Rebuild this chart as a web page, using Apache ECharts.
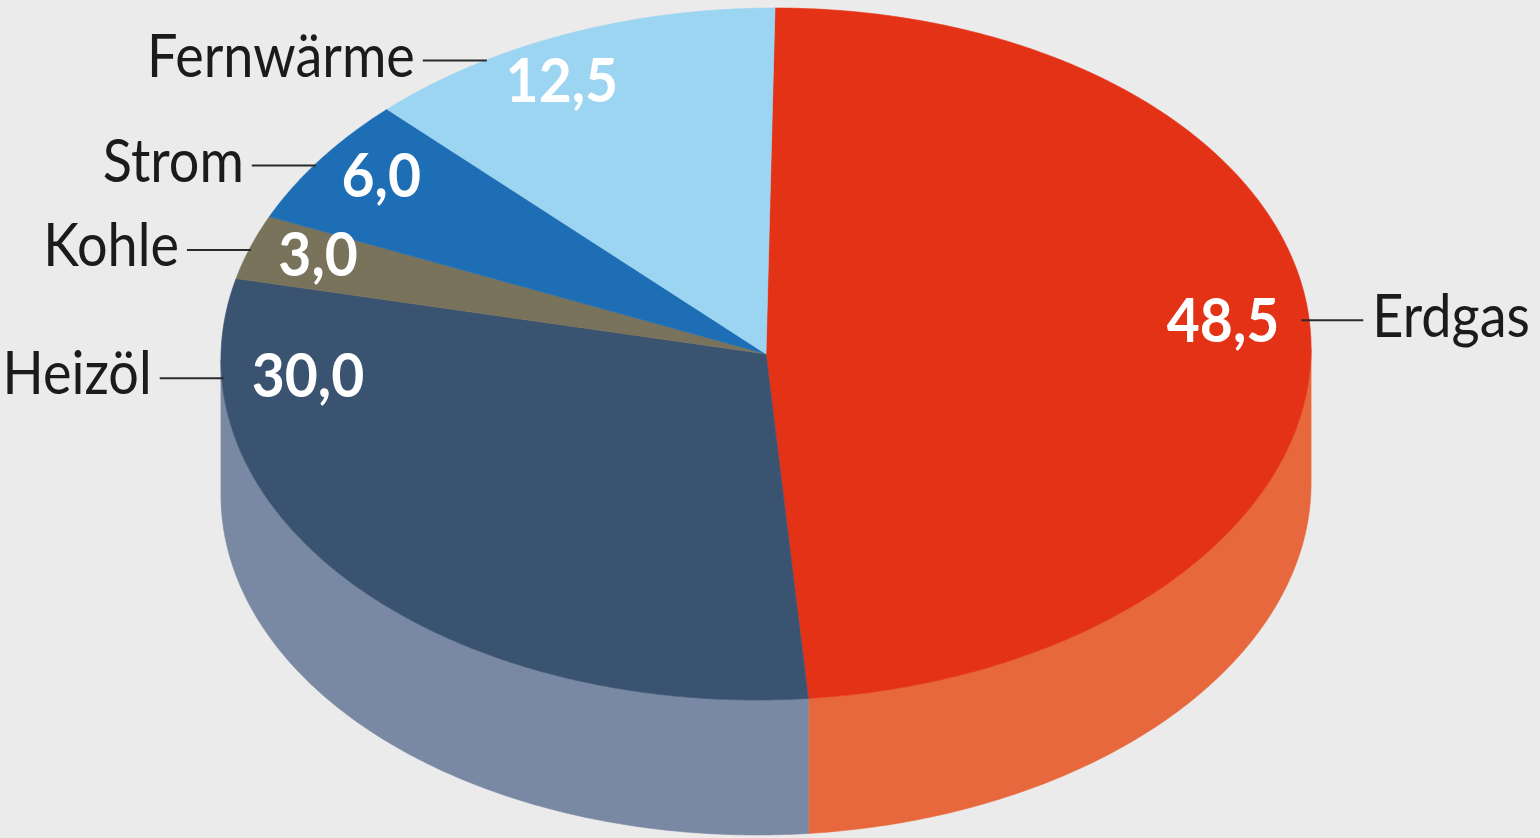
<!DOCTYPE html>
<html><head><meta charset="utf-8">
<script src="https://cdn.jsdelivr.net/npm/echarts@6/dist/echarts.min.js"></script>
<style>html,body{margin:0;padding:0;background:#ebebeb}#c{width:1540px;height:838px}</style>
</head><body><div id="c"></div>
<script>
// ---- data ----
const categories = ['Erdgas', 'Heizöl', 'Kohle', 'Strom', 'Fernwärme'];
const values = [48.5, 30.0, 3.0, 6.0, 12.5];
// ---- styling / layout ----
const topColors = ['#E43217', '#3A5371', '#7A735C', '#1E6EB6', '#9CD5F2'];
const sideColors = ['#E8683D', '#7A89A3', '#5B5645', '#17528A', '#74A0B5'];
const labelAngles = [84.4, 266, 287.5, 303, 328]; // where each leader line meets the rim (deg, clockwise from top)

const CX = 766, CY = 354, RX = 545, RY = 346, SHEAR = 9, DEPTH = 135;
const FRONT0 = Math.atan2(RX, SHEAR) * 180 / Math.PI, FRONT1 = FRONT0 + 180;

function pt(deg, dy) {
  const t = deg * Math.PI / 180;
  return [CX + RX * Math.sin(t) + SHEAR * Math.cos(t), CY - RY * Math.cos(t) + (dy || 0)];
}
function arc(a, b, dy) {
  const n = Math.max(2, Math.ceil(Math.abs(b - a) / 0.5) + 1);
  const out = [];
  for (let k = 0; k < n; k++) out.push(pt(a + (b - a) * k / (n - 1), dy));
  return out;
}
function fmt(v) { return v.toFixed(1).replace('.', ','); }

const total = values.reduce((a, b) => a + b, 0);

function renderItem(params, api) {
  const i = params.dataIndex;
  let before = 0;
  for (let k = 0; k < i; k++) before += values[k];
  const a0 = before / total * 360;
  const a1 = (before + api.value(0)) / total * 360;
  const children = [];
  const lo = Math.max(a0, FRONT0), hi = Math.min(a1, FRONT1);
  if (hi > lo) {
    children.push({ type: 'polygon', z2: 1,
      shape: { points: arc(lo, hi, 0).concat(arc(hi, lo, DEPTH)) },
      style: { fill: sideColors[i], stroke: sideColors[i], lineWidth: 0.6 } });
  }
  children.push({ type: 'polygon', z2: 2,
    shape: { points: [[CX, CY]].concat(arc(a0, a1, 0)) },
    style: { fill: topColors[i], stroke: topColors[i], lineWidth: 0.6 } });

  const la = labelAngles[i];
  const P = pt(la, 0);
  const right = Math.sin(la * Math.PI / 180) > 0;
  let dx = CX - P[0], dy = CY - P[1];
  const len = Math.hypot(dx, dy); dx /= len; dy /= len;
  const Q = [P[0] + 30 * dx, P[1] + 30 * dy];
  const lineShape = right ? { x1: P[0] - 8, y1: P[1], x2: P[0] + 54, y2: P[1] }
                          : { x1: P[0] - 62, y1: P[1], x2: P[0] + 2, y2: P[1] };
  children.push({ type: 'line', z2: 5, shape: lineShape, style: { stroke: '#2b2b2b', lineWidth: 2 } });
  const nameX = right ? P[0] + 63 : P[0] - 70;
  children.push({ type: 'text', z2: 6, x: nameX, y: P[1] - 3, scaleX: 0.9,
    style: { text: categories[i], font: 'normal 60px Lato', fill: '#1b1b1b',
      align: right ? 'left' : 'right', verticalAlign: 'middle',
      textAlign: right ? 'left' : 'right', textVerticalAlign: 'middle' } });
  children.push({ type: 'text', z2: 7, x: Q[0], y: Q[1], scaleX: 0.92,
    style: { text: fmt(api.value(0)), font: 'bold 62px Lato', fill: '#ffffff',
      align: right ? 'right' : 'left', verticalAlign: 'middle',
      textAlign: right ? 'right' : 'left', textVerticalAlign: 'middle' } });
  return { type: 'group', children: children };
}

const chart = echarts.init(document.getElementById('c'), null, { renderer: 'canvas' });
chart.setOption({
  backgroundColor: '#ebebeb',
  animation: false,
  series: [{
    type: 'custom',
    coordinateSystem: 'none',
    silent: true,
    renderItem: renderItem,
    data: values.map(v => [v])
  }]
});
</script>
</body></html>
